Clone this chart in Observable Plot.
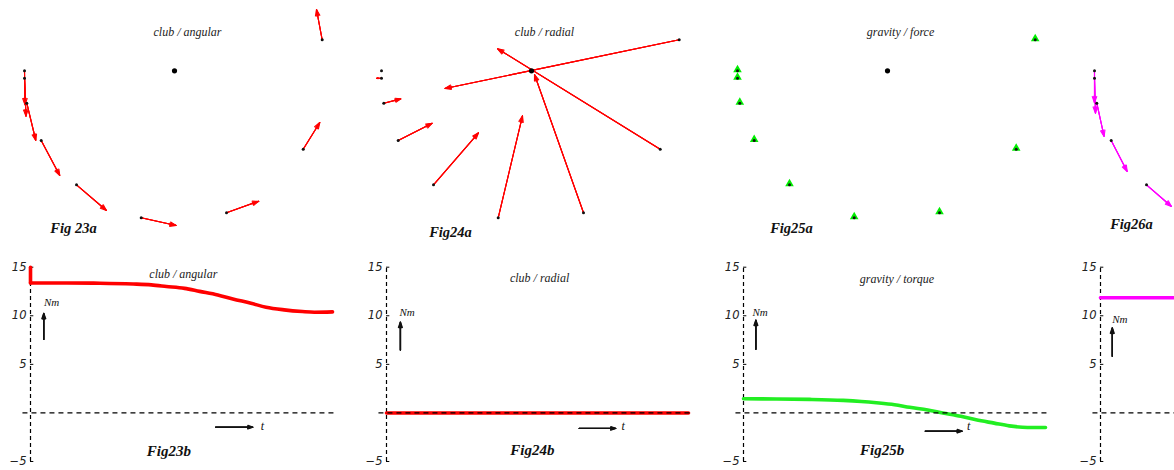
<!DOCTYPE html>
<html><head><meta charset="utf-8">
<script src="https://cdn.jsdelivr.net/npm/d3@7"></script>
<script src="https://cdn.jsdelivr.net/npm/@observablehq/plot@0.6"></script>
<style>
body{margin:0;background:#fff;}
#wrap{position:relative;width:1174px;height:470px;overflow:hidden;background:#fff;}
.panel{position:absolute;width:357px;}
.panel svg{overflow:visible;display:block;max-width:none !important;}
</style></head><body><div id="wrap"></div>
<script>
// ---- swing positions (m), centre of rotation at (0,0) ----
const posX = [-1.500, -1.500, -1.477, -1.333, -0.980, -0.333, 0.520, 1.287, 1.477];
const posY = [ 0.000, -0.074, -0.324, -0.697, -1.140, -1.470, -1.420, -0.784, 0.310];
// club / angular force vectors (Fig 23a)
const angDX = [0.005, 0.015, 0.090, 0.186, 0.300, 0.350, 0.323, 0.166, -0.057];
const angDY = [-0.340, -0.380, -0.373, -0.350, -0.257, -0.077, 0.116, 0.267, 0.303];
// club / radial force vectors (Fig 24a)
const radDX = [0.000, -0.050, 0.170, 0.340, 0.450, 0.243, -0.490, -1.626, -2.343];
const radDY = [0.000, 0.000, 0.043, 0.173, 0.520, 1.020, 1.383, 1.004, -0.487];
// constant torque force vectors (Fig 26a)
const conDX = [0.000, 0.010, 0.073, 0.160, 0.250, 0.332, 0.320, 0.180, -0.063];
const conDY = [-0.320, -0.350, -0.333, -0.310, -0.217, -0.073, 0.115, 0.289, 0.334];

// ---- torque curves (Nm) over normalised time ----
const tAng = [0, 0, 0.12, 0.23, 0.34, 0.40, 0.45, 0.51, 0.56, 0.62, 0.67, 0.73, 0.78, 0.84, 0.90, 0.94, 1.00];
const torqueAng = [15, 13.37, 13.37, 13.35, 13.27, 13.18, 13.02, 12.82, 12.51, 12.14, 11.73, 11.29, 10.88, 10.61, 10.44, 10.37, 10.40];
const tRad = [0, 1];
const torqueRad = [0, 0];
const tGrav = [0, 0.11, 0.22, 0.33, 0.39, 0.44, 0.50, 0.55, 0.61, 0.66, 0.72, 0.77, 0.83, 0.88, 0.94, 1.00];
const torqueGrav = [1.46, 1.43, 1.39, 1.29, 1.18, 1.05, 0.85, 0.58, 0.30, 0.00, -0.34, -0.71, -1.05, -1.33, -1.50, -1.50];
const tCon = [0, 1];
const torqueCon = [11.85, 11.85];
const yTicks = [15, 10, 5, -5];

const topTitles = ["club / angular", "club / radial", "gravity / force", ""];
const topFigs = ["Fig 23a", "Fig24a", "Fig25a", "Fig26a"];
const bottomTitles = ["club / angular", "club / radial", "gravity / torque", ""];
const bottomFigs = ["Fig23b", "Fig24b", "Fig25b", ""];
const timeLabels = ["t", "t", "t", ""];

// ---- layout ----
const SERIF = "'Liberation Serif', 'DejaVu Serif', serif";
const topLefts = [0, 357, 713.3, 1069.7];
const botLefts = [0, 356, 713.3, 1070];
const topFigPos = [[-1.01, -1.577], [-0.81, -1.617], [-0.96, -1.577], [-1.13, -1.537]];
const botAnn = [
  {nm:[0.070, 11.4], up:[0.044, 7.57, 10.24], tl:[0.768, -1.37], rt:[0.613, 0.736, -1.47], title:[0.506, 14.33], fig:[0.458, -3.93]},
  {nm:[0.068, 10.3], up:[0.046, 6.48, 9.34], tl:[0.784, -1.37], rt:[0.638, 0.759, -1.60], title:[0.507, 13.9], fig:[0.483, -3.86]},
  {nm:[0.055, 10.3], up:[0.041, 6.55, 9.55], tl:[0.746, -1.37], rt:[0.602, 0.724, -1.88], title:[0.508, 13.8], fig:[0.459, -3.86]},
  {nm:[0.064, 9.65], up:[0.039, 5.84, 8.74], tl:null, rt:null, title:[0.500, 13.9], fig:null}
];

const wrap = document.getElementById("wrap");
function place(svg, left, top) {
  const d = document.createElement("div");
  d.className = "panel";
  d.style.left = left + "px";
  d.style.top = top + "px";
  d.appendChild(svg);
  wrap.appendChild(d);
}

function filledArrows(data, opts) {
  return [40, 24, 10].map(a => Plot.arrow(data, {...opts, headAngle: a}));
}

function topPanel(k, dx, dy, color) {
  const pts = posX.map((x, i) => ({x, y: posY[i], x2: dx ? x + dx[i] : x, y2: dy ? posY[i] + dy[i] : posY[i]}));
  const vecs = pts.filter(p => p.x2 !== p.x || p.y2 !== p.y);
  const marks = [];
  if (dx) marks.push(...filledArrows(vecs, {x1: "x", y1: "y", x2: "x2", y2: "y2", stroke: color, strokeWidth: 1.1, headLength: 9}));
  else marks.push(Plot.dot(pts, {x: "x", y: "y", symbol: "triangle", r: 3.2, fill: color, dy: -1}));
  marks.push(
    Plot.dot(pts, {x: "x", y: "y", r: 1.5, fill: "#111"}),
    Plot.dot([{x: 0, y: 0}], {x: "x", y: "y", r: 2.6, fill: "#000"})
  );
  if (topTitles[k]) marks.push(Plot.text([topTitles[k]], {x: () => 0.13, y: () => 0.383, text: d => d, fontStyle: "italic", fontSize: 12, fill: "#222"}));
  marks.push(Plot.text([topFigs[k]], {x: () => topFigPos[k][0], y: () => topFigPos[k][1], text: d => d, fontStyle: "italic", fontWeight: "bold", fontSize: 14.5, fill: "#111"}));
  return Plot.plot({
    width: 357, height: 240, margin: 0,
    x: {domain: [-1.74, 1.83], axis: null},
    y: {domain: [-1.697, 0.703], axis: null},
    style: {fontFamily: SERIF, background: "transparent"},
    marks
  });
}

function bottomPanel(k, t, v, color) {
  const rows = t.map((d, i) => ({t: d, v: v[i]}));
  const spike = rows.length > 2 && rows[0].t === rows[1].t;
  const main = spike ? rows.slice(1) : rows;
  const a = botAnn[k];
  const marks = [
    Plot.ruleX([0], {y1: -5, y2: 15, stroke: "#000", strokeWidth: 1.2, strokeDasharray: "4,3"}),
    Plot.ruleY(yTicks, {x1: 0, x2: 0.011, stroke: "#000", strokeWidth: 1}),
    Plot.axisY({ticks: yTicks, tickSize: 0, tickPadding: 4, label: null, fontStyle: "italic", fontFamily: "'DejaVu Sans', sans-serif", fontSize: 11.5, fill: "#222"}),
    spike ? Plot.line(rows.slice(0, 2), {x: "t", y: "v", stroke: color, strokeWidth: 3.6}) : null,
    Plot.line(main, {x: "t", y: "v", stroke: color, strokeWidth: 3.6, curve: "monotone-x"}),
    Plot.ruleY([0], {x1: -0.025, x2: 1.012, stroke: "#000", strokeWidth: 1.2, strokeDasharray: "5,4"}),
    Plot.text(["Nm"], {x: () => a.nm[0], y: () => a.nm[1], text: d => d, fontStyle: "italic", fontSize: 11, fill: "#111"}),
    ...filledArrows([a.up], {x1: d => d[0], x2: d => d[0], y1: d => d[1], y2: d => d[2], stroke: "#111", strokeWidth: 1.4, headLength: 6})
  ];
  if (bottomTitles[k]) marks.push(Plot.text([bottomTitles[k]], {x: () => a.title[0], y: () => a.title[1], text: d => d, fontStyle: "italic", fontSize: 12, fill: "#222"}));
  if (timeLabels[k] && a.tl) {
    marks.push(Plot.text([timeLabels[k]], {x: () => a.tl[0], y: () => a.tl[1], text: d => d, fontStyle: "italic", fontSize: 12, fill: "#111"}));
    marks.push(...filledArrows([a.rt], {x1: d => d[0], x2: d => d[1], y1: d => d[2], y2: d => d[2], stroke: "#111", strokeWidth: 1.3, headLength: 6}));
  }
  if (bottomFigs[k] && a.fig) marks.push(Plot.text([bottomFigs[k]], {x: () => a.fig[0], y: () => a.fig[1], text: d => d, fontStyle: "italic", fontWeight: "bold", fontSize: 15, fill: "#111"}));
  return Plot.plot({
    width: 357, height: 220, marginLeft: 30, marginRight: 25, marginTop: 16.7, marginBottom: 9,
    x: {domain: [0, 1], axis: null},
    y: {domain: [-5, 15]},
    style: {fontFamily: SERIF, background: "transparent"},
    marks
  });
}

place(topPanel(0, angDX, angDY, "#ff0000"), topLefts[0], 0);
place(topPanel(1, radDX, radDY, "#ff0000"), topLefts[1], 0);
place(topPanel(2, null, null, "#00ee00"), topLefts[2], 0);
place(topPanel(3, conDX, conDY, "#ff00ff"), topLefts[3], 0);

place(bottomPanel(0, tAng, torqueAng, "#ff0000"), botLefts[0], 250);
place(bottomPanel(1, tRad, torqueRad, "#ff0000"), botLefts[1], 250);
place(bottomPanel(2, tGrav, torqueGrav, "#22ee22"), botLefts[2], 250);
place(bottomPanel(3, tCon, torqueCon, "#ff00ff"), botLefts[3], 250);
</script></body></html>
